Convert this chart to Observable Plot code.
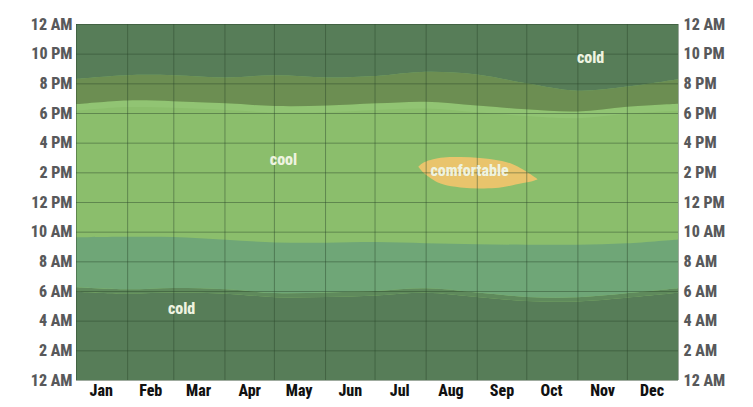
<!DOCTYPE html>
<html>
<head>
<meta charset="utf-8">
<script src="https://cdn.jsdelivr.net/npm/d3@7"></script>
<script src="https://cdn.jsdelivr.net/npm/@observablehq/plot@0.6"></script>
<style>
  html, body { margin: 0; padding: 0; background: #ffffff; }
  #chart svg { display: block; }
  #chart svg text { font-stretch: 75%; }
</style>
</head>
<body>
<div id="chart"></div>
<script>
// ---- data (day of year, hour of day) ----
const months = ["Jan","Feb","Mar","Apr","May","Jun","Jul","Aug","Sep","Oct","Nov","Dec"];
const monthStarts = [0,31,59,90,120,151,181,212,243,273,304,334,365];
const monthMids = [15,45,74,105,135,166,196,227,258,288,319,349];
const hourTicks = [0,2,4,6,8,10,12,14,16,18,20,22,24];
const hourLabels = ["12 AM","2 AM","4 AM","6 AM","8 AM","10 AM","12 PM","2 PM","4 PM","6 PM","8 PM","10 PM","12 AM"];

// band boundaries sampled at these days
const sampleDays = [0,31,59,91,121,152,182,212,243,273,304,334,365];
const coldMorningTop = [5.95,5.82,5.9,5.82,5.58,5.6,5.7,5.88,5.6,5.32,5.3,5.55,5.88];
const nightEnd       = [6.25,6.11,6.2,6.11,5.86,5.9,6.0,6.18,5.9,5.6,5.58,5.85,6.18];
const morningTop     = [9.62,9.66,9.64,9.45,9.27,9.25,9.3,9.22,9.15,9.12,9.12,9.22,9.48];
const dayTop         = [18.15,18.4,18.35,18.2,18.02,18.05,18.2,18.3,18.05,17.8,17.65,17.95,18.15];
const duskBottom     = [18.6,18.85,18.8,18.65,18.47,18.5,18.65,18.76,18.5,18.25,18.1,18.42,18.62];
const nightTop       = [20.3,20.55,20.55,20.4,20.55,20.4,20.5,20.78,20.6,20.0,19.5,19.78,20.28];

// comfortable patch outline
const comfortDays   = [207.5,210.6,216.6,222,232.8,244.9,257.1,265.1,271.2,276.3,279.9];
const comfortBottom = [14.38,13.93,13.48,13.15,12.96,12.9,12.92,13.15,13.3,13.37,13.53];
const comfortTop    = [14.38,14.7,14.9,15.02,15.05,14.98,14.8,14.58,14.18,13.82,13.53];

const labelTexts = ["cool","cold","cold","comfortable"];
const labelDays  = [125.5,311.7,63.7,238.3];
const labelHours = [14.9,21.78,4.85,14.16];

// ---- build tables ----
const bands = sampleDays.map((d,i) => ({
  day: d, a: coldMorningTop[i], b: nightEnd[i], c: morningTop[i],
  e: dayTop[i], f: duskBottom[i], g: nightTop[i]
}));
const comfort = comfortDays.map((d,i) => ({day: d, lo: comfortBottom[i], hi: comfortTop[i]}));
const labels = labelTexts.map((t,i) => ({text: t, day: labelDays[i], hour: labelHours[i]}));

const C = {
  dark: "#577d58",
  trans: "#5f8a5c",
  morning: "#6fa677",
  light: "#8bbe6c",
  strip: "#91c473",
  olive: "#6c8e52",
  comfort: "#e9c46c",
  label: "#eef3e0",
  grid: "#2a452a"
};
const curve = "catmull-rom";
const font = "Roboto, 'Liberation Sans', sans-serif";

const chart = Plot.plot({
  width: 753,
  height: 407,
  marginTop: 24,
  marginBottom: 27,
  marginLeft: 76,
  marginRight: 75,
  style: {fontFamily: font, fontSize: "16px", background: "#ffffff"},
  x: {domain: [0, 365]},
  y: {domain: [0, 24]},
  marks: [
    Plot.areaY(bands, {x: "day", y1: 0, y2: 24, fill: C.light, curve}),
    Plot.areaY(bands, {x: "day", y1: 0, y2: "a", fill: C.dark, curve}),
    Plot.areaY(bands, {x: "day", y1: "a", y2: "b", fill: C.trans, curve}),
    Plot.areaY(bands, {x: "day", y1: "b", y2: "c", fill: C.morning, curve}),
    Plot.areaY(bands, {x: "day", y1: "e", y2: "f", fill: C.strip, curve}),
    Plot.areaY(bands, {x: "day", y1: "f", y2: "g", fill: C.olive, curve}),
    Plot.areaY(bands, {x: "day", y1: "g", y2: 24, fill: C.dark, curve}),
    Plot.areaY(comfort, {x: "day", y1: "lo", y2: "hi", fill: C.comfort, curve: "basis"}),
    Plot.ruleX(monthStarts, {y1: 0, y2: 24, stroke: C.grid, strokeOpacity: 0.45}),
    Plot.ruleY(hourTicks, {x1: 0, x2: 365, stroke: C.grid, strokeOpacity: 0.45}),
    Plot.text(labels, {x: "day", y: "hour", text: "text", fill: C.label, fontWeight: 800, fontSize: 16, fontFamily: font}),
    Plot.axisY({anchor: "left", ticks: hourTicks, tickFormat: (d) => hourLabels[hourTicks.indexOf(d)], tickSize: 0, tickPadding: 4, label: null, color: "#58595b", fontWeight: 800, fontSize: 16}),
    Plot.axisY({anchor: "right", ticks: hourTicks, tickFormat: (d) => hourLabels[hourTicks.indexOf(d)], tickSize: 0, tickPadding: 5, label: null, color: "#58595b", fontWeight: 800, fontSize: 16}),
    Plot.axisX({ticks: monthMids, tickFormat: (d) => months[monthMids.indexOf(d)], tickSize: 0, tickPadding: 4, label: null, color: "#111111", fontWeight: 800, fontSize: 16})
  ]
});
document.getElementById("chart").appendChild(chart);
</script>
</body>
</html>
